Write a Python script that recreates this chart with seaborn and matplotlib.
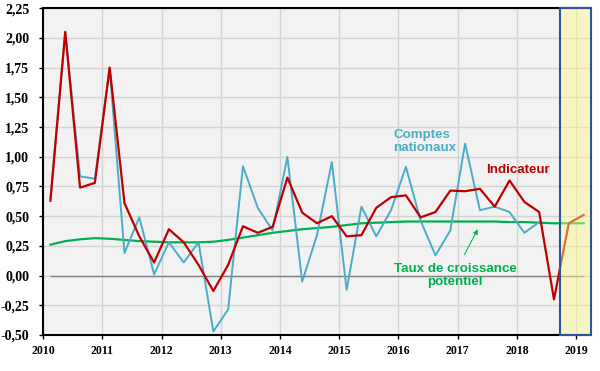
import numpy as np
import pandas as pd
import seaborn as sns
import matplotlib.pyplot as plt
from matplotlib.patches import Rectangle

# quarterly data, 2010T1 -> 2019T1
years = list(range(2010, 2020))
quarters = [(y, q) for y in range(2010, 2019) for q in range(1, 5)] + [(2019, 1)]

indicateur = [0.63, 2.05, 0.74, 0.78,
              1.75, 0.61, 0.33, 0.11,
              0.39, 0.28, 0.09, -0.13,
              0.09, 0.415, 0.36, 0.41,
              0.825, 0.53, 0.44, 0.50,
              0.33, 0.34, 0.57, 0.66,
              0.675, 0.49, 0.535, 0.715,
              0.71, 0.73, 0.58, 0.80,
              0.62, 0.535, -0.20, 0.44,
              0.51]

comptes = [0.65, 2.05, 0.835, 0.815,
           1.74, 0.19, 0.49, 0.01,
           0.28, 0.11, 0.28, -0.47,
           -0.285, 0.92, 0.57, 0.38,
           1.00, -0.05, 0.34, 0.955,
           -0.12, 0.58, 0.33, 0.55,
           0.915, 0.46, 0.17, 0.38,
           1.11, 0.55, 0.58, 0.535,
           0.36, 0.45]

potentiel = [0.26, 0.29, 0.305, 0.315,
             0.31, 0.30, 0.29, 0.285,
             0.28, 0.28, 0.28, 0.285,
             0.30, 0.32, 0.34, 0.36,
             0.375, 0.39, 0.40, 0.41,
             0.425, 0.44, 0.445, 0.45,
             0.455, 0.455, 0.455, 0.455,
             0.455, 0.455, 0.455, 0.45,
             0.45, 0.445, 0.44, 0.44,
             0.44]

forecast_start = 2018.72
yticks = np.arange(-0.5, 2.26, 0.25)

# quarter position = middle of the quarter
pos = [y + (q - 0.5) / 4 for y, q in quarters]
df = pd.DataFrame({'pos': pos, 'indicateur': indicateur, 'potentiel': potentiel})
df['comptes'] = pd.Series(comptes)

fig, ax = plt.subplots(figsize=(6, 3.71), dpi=100)
fig.subplots_adjust(left=0.0717, right=0.985, bottom=0.097, top=0.978)
ax.set_facecolor('#F2F2F2')

ax.hlines(0, pos[0], pos[-1], color='#808080', lw=1, zorder=1.5)

sns.lineplot(data=df, x='pos', y='potentiel', color='#00B050', lw=1.6, ax=ax, zorder=2)
sns.lineplot(data=df.dropna(), x='pos', y='comptes', color='#4BACC6', lw=1.4, ax=ax, zorder=2.1)
sns.lineplot(data=df, x='pos', y='indicateur', color='#C00000', lw=1.6, ax=ax, zorder=2.2)

# forecast zone
ax.add_patch(Rectangle((forecast_start, yticks[0]), 2019.25 - forecast_start, yticks[-1] - yticks[0],
                       facecolor=(1.0, 0.98, 0.55, 0.45), edgecolor='#2F5597', lw=1.5,
                       zorder=3, clip_on=False))

ax.set_xlim(2010, 2019.25)
ax.set_ylim(-0.5, 2.25)
ax.set_xticks(years)
ax.set_xticklabels([str(y) for y in years])
ax.set_yticks(yticks)
ax.set_yticklabels([f"{v:.2f}".replace('.', ',') for v in yticks])
ax.set_xlabel('')
ax.set_ylabel('')
ax.grid(color='#D3D3D3', lw=1)
ax.set_axisbelow(True)

for s in ['left', 'bottom', 'top']:
    ax.spines[s].set_color('black')
    ax.spines[s].set_linewidth(1.5)
ax.spines['right'].set_visible(False)

ax.tick_params(direction='out', length=3, width=1, color='black')
ax.tick_params(axis='y', pad=7)
ax.tick_params(axis='x', pad=4)
for lab in ax.get_yticklabels():
    lab.set_fontfamily('Liberation Serif')
    lab.set_fontweight('bold')
    lab.set_fontsize(10)
for lab in ax.get_xticklabels():
    lab.set_fontfamily('Liberation Serif')
    lab.set_fontweight('bold')
    lab.set_fontsize(8.5)

txt = dict(fontfamily='Liberation Sans', fontweight='bold', fontsize=9.6, zorder=5, linespacing=1.15)
ax.text(2015.91, 1.13, 'Comptes\nnationaux', color='#4BACC6', ha='left', va='center', **txt)
ax.text(2018.02, 0.89, 'Indicateur', color='#C00000', ha='center', va='center', **txt)
ax.text(2016.96, 0.0, 'Taux de croissance\npotentiel', color='#00B050', ha='center', va='center',
        multialignment='center', **txt)
ax.annotate('', xy=(2017.36, 0.41), xytext=(2017.09, 0.155),
            arrowprops=dict(arrowstyle='-|>', color='#00B050', lw=0.7, mutation_scale=7), zorder=5)

fig.savefig('out.png', dpi=100)
